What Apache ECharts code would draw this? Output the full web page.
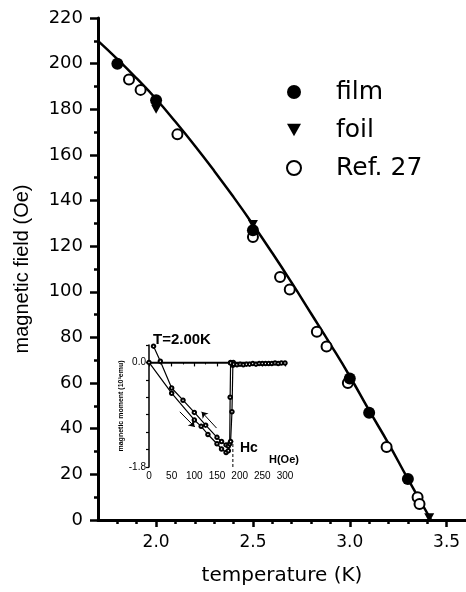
<!DOCTYPE html>
<html>
<head>
<meta charset="utf-8">
<script src="https://cdn.jsdelivr.net/npm/echarts@6/dist/echarts.min.js"></script>
<style>
  html, body { margin: 0; padding: 0; background: #fff; }
  #chart { width: 466px; height: 592px; }
</style>
</head>
<body>
<div id="chart"></div>
<script>
// main plot: critical field vs temperature
const filmData = [[1.8, 200], [2.0, 184], [2.5, 127], [3.0, 62], [3.1, 47], [3.3, 18]];
const foilData = [[2.0, 180], [2.5, 129.5], [3.41, 1]];
const ref27Data = [
    [1.86, 193], [1.92, 188.5], [2.11, 169], [2.5, 124], [2.64, 106.5], [2.69, 101],
    [2.83, 82.5], [2.88, 76], [2.99, 60], [3.19, 32], [3.35, 10], [3.36, 7]
];
const fitCurve = [
    [1.7, 210], [1.8, 202], [1.9, 193.5], [2.0, 184.5], [2.1, 174.5], [2.2, 164],
    [2.3, 153], [2.4, 141.5], [2.5, 129.5], [2.6, 117], [2.7, 104], [2.8, 90.5],
    [2.9, 77], [3.0, 63], [3.1, 48], [3.2, 33.5], [3.3, 18], [3.42, 0]
];
const xMajor = [2.0, 2.5, 3.0, 3.5];
const xMinor = [1.8, 1.9, 2.1, 2.2, 2.3, 2.4, 2.6, 2.7, 2.8, 2.9, 3.1, 3.2, 3.3, 3.4];

// inset: magnetization loop at T = 2.00 K
const upperBranch = [
    [10, 0.28], [25, 0.02], [50, -0.44], [75, -0.65], [100, -0.86], [125, -1.08],
    [150, -1.29], [160, -1.36], [170, -1.42], [175, -1.44], [178, -1.40], [179, -0.6], [180, 0.0]
];
const lowerBranch = [
    [0, 0.0], [50, -0.53], [100, -0.99], [115, -1.1], [130, -1.24], [150, -1.40],
    [160, -1.49], [170, -1.55], [175, -1.52], [180, -1.36], [183, -0.85], [185, -0.05], [186, 0.0]
];
const flatBranch = [
    [180, -0.01], [187, -0.03], [194, -0.04], [201, -0.03], [208, -0.04], [215, -0.03],
    [222, -0.03], [229, -0.02], [236, -0.03], [243, -0.02], [250, -0.02], [257, -0.02],
    [264, -0.02], [271, -0.02], [278, -0.01], [285, -0.02], [292, -0.01], [300, -0.01]
];
const zeroLine = [[0, 0], [300, 0]];
const hcLine = [[185, -1.8], [185, -1.36]];

const tri = 'path://M0,0 L10,0 L5,9 Z';
const wide = '"DejaVu Sans", Arial, sans-serif';
const arial = 'Arial, "Liberation Sans", sans-serif';

const chart = echarts.init(document.getElementById('chart'));

const option = {
    animation: false,
    backgroundColor: '#fff',
    legend: {
        orient: 'vertical',
        left: 281,
        top: 73,
        itemWidth: 14,
        itemHeight: 14,
        itemGap: 10,
        textStyle: { fontFamily: wide, fontSize: 25, color: '#000', lineHeight: 28, padding: [0, 0, 0, 30] },
        data: ['film', 'foil', 'Ref. 27']
    },
    grid: [
        { left: 98, top: 18, right: 0, bottom: 72 },
        { left: 149, top: 345, right: 181, bottom: 125 }
    ],
    xAxis: [
        {
            gridIndex: 0, type: 'value', min: 1.7, max: 3.6, position: 'bottom',
            name: 'temperature (K)', nameLocation: 'middle', nameGap: 46,
            nameTextStyle: { fontFamily: wide, fontSize: 20, color: '#000' },
            axisLine: { lineStyle: { color: '#000', width: 3 } },
            axisTick: { customValues: xMajor, length: 7, lineStyle: { width: 2.5, color: '#000' } },
            axisLabel: { customValues: xMajor, formatter: v => v.toFixed(1), margin: 14,
                fontFamily: wide, fontSize: 17, color: '#000' },
            splitLine: { show: false }
        },
        {
            gridIndex: 0, type: 'value', min: 1.7, max: 3.6, position: 'bottom',
            axisLine: { show: false },
            axisTick: { customValues: xMinor, length: 4, lineStyle: { width: 2.5, color: '#000' } },
            axisLabel: { show: false },
            splitLine: { show: false }
        },
        {
            gridIndex: 1, type: 'value', min: 0, max: 300, interval: 50,
            axisLine: { lineStyle: { color: '#000', width: 1.5 } },
            axisTick: { length: 4, lineStyle: { width: 1.2, color: '#000' } },
            minorTick: { show: true, splitNumber: 2, length: 2, lineStyle: { width: 1, color: '#000' } },
            axisLabel: { margin: 4, fontFamily: arial, fontSize: 10, color: '#000' },
            splitLine: { show: false }
        }
    ],
    yAxis: [
        {
            gridIndex: 0, type: 'value', min: 0, max: 220, interval: 20,
            name: 'magnetic field (Oe)', nameLocation: 'middle', nameGap: 66,
            nameTextStyle: { fontFamily: arial, fontSize: 20, color: '#000' },
            axisLine: { show: true, lineStyle: { color: '#000', width: 3 } },
            axisTick: { show: true, length: 8, lineStyle: { width: 2.5, color: '#000' } },
            minorTick: { show: true, splitNumber: 2, length: 4, lineStyle: { width: 2.5, color: '#000' } },
            axisLabel: { margin: 15, fontFamily: wide, fontSize: 18, color: '#000' },
            splitLine: { show: false }
        },
        {
            gridIndex: 1, type: 'value', min: -1.8, max: 0.3, interval: 0.3,
            name: 'magnetic moment (10³emu)', nameLocation: 'middle', nameGap: 20,
            nameTextStyle: { fontFamily: arial, fontSize: 7, fontWeight: 'bold', color: '#000' },
            axisLine: { show: true, lineStyle: { color: '#000', width: 1.5 } },
            axisTick: { show: true, length: 3, lineStyle: { width: 1.2, color: '#000' } },
            axisLabel: { customValues: [0, -1.8], formatter: v => v.toFixed(1), margin: 3,
                fontFamily: arial, fontSize: 10, color: '#000' },
            splitLine: { show: false }
        }
    ],
    series: [
        {
            name: 'fit', type: 'line', xAxisIndex: 0, yAxisIndex: 0, data: fitCurve,
            smooth: true, symbol: 'none', lineStyle: { color: '#000', width: 2.5 }, z: 1
        },
        {
            name: 'film', type: 'scatter', xAxisIndex: 0, yAxisIndex: 0, data: filmData,
            symbol: 'circle', symbolSize: 12, itemStyle: { color: '#000', opacity: 1 }, z: 3
        },
        {
            name: 'foil', type: 'scatter', xAxisIndex: 0, yAxisIndex: 0, data: foilData,
            symbol: tri, symbolSize: [10, 9], itemStyle: { color: '#000', opacity: 1 }, z: 3
        },
        {
            name: 'Ref. 27', type: 'scatter', xAxisIndex: 0, yAxisIndex: 0, data: ref27Data,
            symbol: 'emptyCircle', symbolSize: 10,
            itemStyle: { color: '#000', borderColor: '#000', borderWidth: 2, opacity: 1 }, z: 2
        },
        {
            name: 'zero', type: 'line', xAxisIndex: 2, yAxisIndex: 1, data: zeroLine,
            symbol: 'none', lineStyle: { color: '#000', width: 1.2 }
        },
        {
            name: 'up', type: 'line', xAxisIndex: 2, yAxisIndex: 1, data: upperBranch,
            symbol: 'emptyCircle', symbolSize: 3.5, lineStyle: { color: '#000', width: 1.2 },
            itemStyle: { color: '#000', borderWidth: 1 },
            markLine: {
                silent: true, symbolSize: 6, lineStyle: { color: '#000', width: 1, type: 'solid' }, label: { show: false },
                data: [[{ coord: [149, -1.13], symbol: 'none' }, { coord: [116, -0.85], symbol: 'arrow' }]]
            }
        },
        {
            name: 'down', type: 'line', xAxisIndex: 2, yAxisIndex: 1, data: lowerBranch,
            symbol: 'emptyCircle', symbolSize: 3.5, lineStyle: { color: '#000', width: 1.2 },
            itemStyle: { color: '#000', borderWidth: 1 },
            markLine: {
                silent: true, symbolSize: 6, lineStyle: { color: '#000', width: 1, type: 'solid' }, label: { show: false },
                data: [[{ coord: [68, -0.85], symbol: 'none' }, { coord: [101, -1.11], symbol: 'arrow' }]]
            }
        },
        {
            name: 'flat', type: 'line', xAxisIndex: 2, yAxisIndex: 1, data: flatBranch,
            symbol: 'emptyCircle', symbolSize: 3.5, lineStyle: { color: '#000', width: 1 },
            itemStyle: { color: '#000', borderWidth: 1 }
        },
        {
            name: 'hc', type: 'line', xAxisIndex: 2, yAxisIndex: 1, data: hcLine,
            symbol: 'none', lineStyle: { color: '#000', width: 1, type: [3, 2] }
        }
    ],
    graphic: [
        { type: 'text', left: 153, top: 332, style: { text: 'T=2.00K', fontFamily: arial, fontSize: 15, fontWeight: 'bold', fill: '#000' } },
        { type: 'text', left: 240, top: 441, style: { text: 'Hc', fontFamily: arial, fontSize: 14, fontWeight: 'bold', fill: '#000' } },
        { type: 'text', left: 269, top: 454, style: { text: 'H(Oe)', fontFamily: arial, fontSize: 11, fontWeight: 'bold', fill: '#000' } }
    ]
};

chart.setOption(option);
</script>
</body>
</html>
